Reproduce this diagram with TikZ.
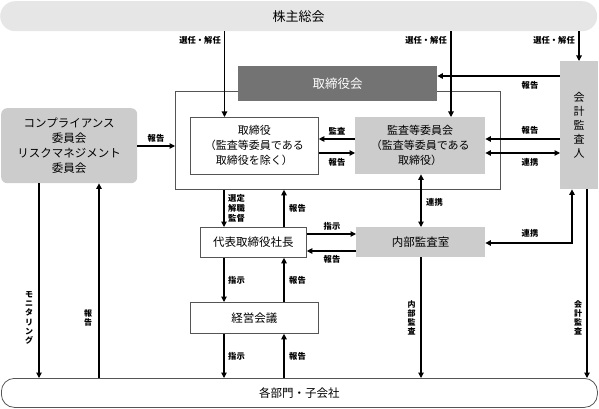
\documentclass[tikz,border=0pt]{standalone}
\usepackage{fontspec}
\setmainfont{Noto Sans CJK JP}
\usetikzlibrary{arrows.meta}
\definecolor{lg}{HTML}{CCCCCC}
\definecolor{tg}{HTML}{E6E6E6}
\definecolor{dg}{HTML}{737373}
\definecolor{fr}{HTML}{555555}
\begin{document}
\begin{tikzpicture}[x=1pt,y=-1pt,
  box/.style={draw=fr, line width=0.8pt, fill=white, inner sep=0pt, anchor=north west, align=center, font=\fontsize{11.5}{15}\selectfont},
  gbox/.style={fill=lg, inner sep=0pt, anchor=north west, align=center, font=\fontsize{11.5}{15}\selectfont},
  arr/.style={line width=1.1pt, -{Triangle[length=5.5pt,width=5.5pt]}},
  darr/.style={line width=1.1pt, {Triangle[length=5.5pt,width=5.5pt]}-{Triangle[length=5.5pt,width=5.5pt]}},
  lab/.style={font=\fontsize{8.3}{10}\selectfont\bfseries, inner sep=0pt, align=center},
  vlab/.style={font=\fontsize{8}{9.2}\selectfont\bfseries, inner sep=0pt, align=center},
]
\useasboundingbox (0,0) rectangle (599,409);

% bars
\node[fill=tg, rounded corners=15pt, minimum width=597pt, minimum height=30pt, anchor=north west, inner sep=0pt, font=\fontsize{13}{13}\selectfont] (top) at (0,1) {株主総会};
\node[draw=fr, line width=0.8pt, rounded corners=13pt, minimum width=596pt, minimum height=29pt, anchor=north west, inner sep=0pt, font=\fontsize{11.5}{11.5}\selectfont] (bot) at (1,378) {各部門・子会社};

% frame and board
\node[draw=fr, line width=0.8pt, minimum width=325pt, minimum height=98pt, anchor=north west, inner sep=0pt] (frame) at (175,91) {};
\node[fill=dg, text=white, anchor=north west, inner sep=0pt, minimum width=199pt, minimum height=35pt, font=\fontsize{12.5}{12.5}\selectfont] (bod) at (238,66) {取締役会};

% boxes
\node[box, minimum width=128pt, minimum height=57pt, font=\fontsize{11}{15}\selectfont] (tori) at (190,117) {取締役\\（監査等委員である\\取締役を除く）};
\node[gbox, minimum width=130pt, minimum height=57pt, font=\fontsize{11}{15}\selectfont] (kansa) at (355,117) {監査等委員会\\（監査等委員である\\取締役）};
\node[gbox, minimum width=38pt, minimum height=128pt, font=\fontsize{11}{14}\selectfont] (kaikei) at (560,61) {会\\計\\監\\査\\人};
\node[gbox, rounded corners=6pt, minimum width=136pt, minimum height=75pt, font=\fontsize{11.5}{14.7}\selectfont] (comp) at (1,108) {コンプライアンス\\委員会\\リスクマネジメント\\委員会};
\node[box, minimum width=106pt, minimum height=30pt] (daihyo) at (200,227) {代表取締役社長};
\node[gbox, minimum width=129pt, minimum height=30pt] (naibu) at (356,227) {内部監査室};
\node[box, minimum width=128pt, minimum height=31pt] (keiei) at (190,302) {経営会議};

% arrows
\draw[arr] (top.south -| 224.5,0) -- (224.5,0 |- tori.north);
\draw[arr] (top.south -| 451,0) -- (451,0 |- kansa.north);
\draw[arr] (top.south -| 579,0) -- (579,0 |- kaikei.north);
\draw[arr] (kaikei.west |- 0,76) -- (bod.east |- 0,76);
\draw[arr] (kansa.west |- 0,139) -- (tori.east |- 0,139);
\draw[arr] (tori.east |- 0,153) -- (kansa.west |- 0,153);
\draw[arr] (kaikei.west |- 0,139) -- (kansa.east |- 0,139);
\draw[darr] (kansa.east |- 0,153) -- (kaikei.west |- 0,153);
\draw[darr] (kansa.south -| 421,0) -- (421,0 |- naibu.north);
\draw[darr] (naibu.east |- 0,243) -| (572,0 |- kaikei.south);
\draw[arr] (frame.south -| 224,0) -- (224,0 |- daihyo.north);
\draw[arr] (daihyo.north -| 284,0) -- (284,0 |- frame.south);
\draw[arr] (daihyo.east |- 0,234) -- (naibu.west |- 0,234);
\draw[arr] (naibu.west |- 0,251) -- (daihyo.east |- 0,251);
\draw[arr] (daihyo.south -| 224,0) -- (224,0 |- keiei.north);
\draw[arr] (keiei.north -| 284,0) -- (284,0 |- daihyo.south);
\draw[arr] (keiei.south -| 224,0) -- (224,0 |- bot.north);
\draw[arr] (bot.north -| 284,0) -- (284,0 |- keiei.south);
\draw[arr] (naibu.south -| 421,0) -- (421,0 |- bot.north);
\draw[arr] (kaikei.south -| 587,0) -- (587,0 |- bot.north);
\draw[arr] (comp.south -| 39,0) -- (39,0 |- bot.north);
\draw[arr] (bot.north -| 99,0) -- (99,0 |- comp.south);
\draw[arr] (comp.east |- 0,146) -- (frame.west |- 0,146);

% labels
\node[lab, anchor=east] (l1) at (221,40) {選任・解任};
\node[lab, anchor=east] (l2) at (447,40) {選任・解任};
\node[lab, anchor=east] (l3) at (575,40) {選任・解任};
\node[lab] (l4) at (530,85) {報告};
\node[lab] (l5) at (337,131) {監査};
\node[lab] (l6) at (337,162) {報告};
\node[lab] (l7) at (530,130) {報告};
\node[lab] (l8) at (530,162) {連携};
\node[lab, anchor=west] (l9) at (426,202) {連携};
\node[lab] (l10) at (530,233) {連携};
\node[lab, anchor=west, align=left] (l11) at (228,208) {選定\\解職\\監督};
\node[lab, anchor=west] (l12) at (289,208) {報告};
\node[lab] (l13) at (332,226) {指示};
\node[lab] (l14) at (332,259) {報告};
\node[lab, anchor=west] (l15) at (228,280) {指示};
\node[lab, anchor=west] (l16) at (289,280) {報告};
\node[lab, anchor=west] (l17) at (228,356) {指示};
\node[lab, anchor=west] (l18) at (289,356) {報告};
\node[lab] (l19) at (156,138) {報告};
\node[vlab] (v1) at (29,318) {モ\\ニ\\タ\\リ\\ン\\グ};
\node[vlab] (v2) at (88,318) {報\\告};
\node[vlab] (v3) at (411.5,318) {内\\部\\監\\査};
\node[vlab] (v4) at (578,318) {会\\計\\監\\査};
\end{tikzpicture}
\end{document}
